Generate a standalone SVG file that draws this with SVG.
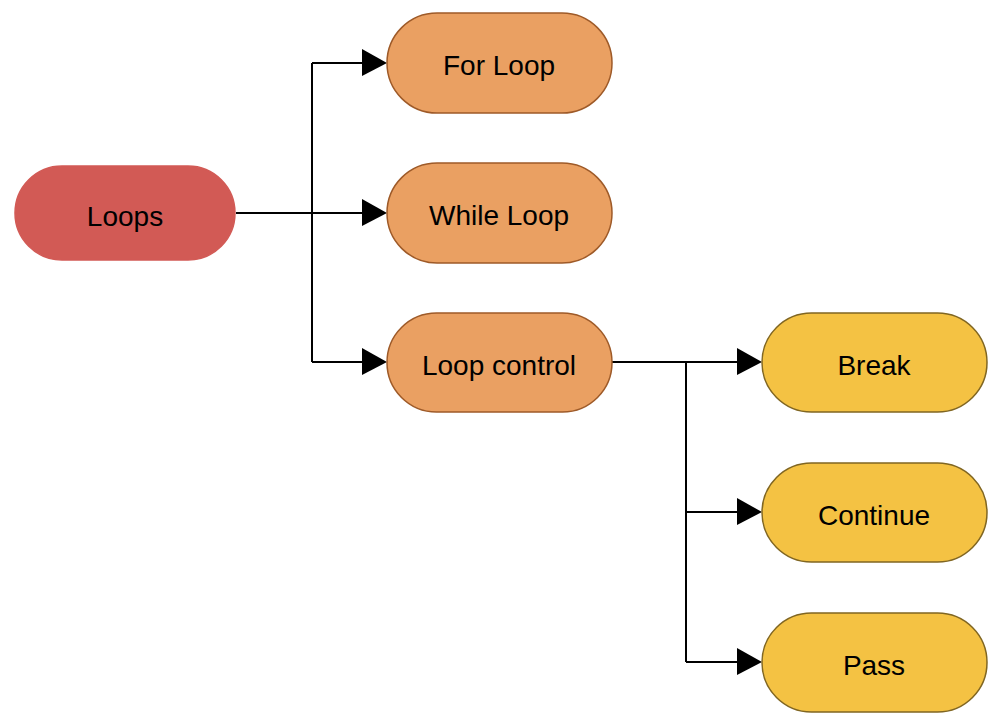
<svg xmlns="http://www.w3.org/2000/svg" width="1008" height="725" viewBox="0 0 1008 725">
<defs>
<style>
.lbl{font-family:"Liberation Sans",Arial,sans-serif;font-size:28px;fill:#000;text-anchor:middle}
.red{fill:#D25A55;stroke:#D25A55;stroke-width:1.5}
.org{fill:#EAA062;stroke:#9E5A28;stroke-width:1.5}
.yel{fill:#F4C243;stroke:#806622;stroke-width:1.5}
.con{fill:none;stroke:#000;stroke-width:2}
.head{fill:#000}
</style>
</defs>
<rect width="1008" height="725" fill="#fff"/>
<g id="connectors">
<path class="con" d="M236,213 H312"/>
<path class="con" d="M312,63 V362"/>
<path class="con" d="M612,362 H686 V662"/>
<path d="M312,63 H362" class="con"/>
<path class="head" d="M362,49 L387,63 L362,76 Z"/>
<path d="M312,213 H362" class="con"/>
<path class="head" d="M362,199 L387,213 L362,226 Z"/>
<path d="M312,362 H362" class="con"/>
<path class="head" d="M362,348 L387,362 L362,375 Z"/>
<path d="M686,362 H737" class="con"/>
<path class="head" d="M737,348 L762,362 L737,375 Z"/>
<path d="M686,512 H737" class="con"/>
<path class="head" d="M737,498 L762,512 L737,525 Z"/>
<path d="M686,662 H737" class="con"/>
<path class="head" d="M737,648 L762,662 L737,675 Z"/>
</g>
<g id="loops"><rect class="red" x="15" y="166" width="220" height="94" rx="47"/><text class="lbl" x="125" y="226">Loops</text></g>
<g id="forloop"><rect class="org" x="387" y="13" width="225" height="100" rx="50"/><text class="lbl" x="499" y="75">For Loop</text></g>
<g id="whileloop"><rect class="org" x="387" y="163" width="225" height="100" rx="50"/><text class="lbl" x="499" y="225">While Loop</text></g>
<g id="loopcontrol"><rect class="org" x="387" y="313" width="225" height="99" rx="49.5"/><text class="lbl" x="499" y="375">Loop control</text></g>
<g id="break"><rect class="yel" x="762" y="313" width="225" height="99" rx="49.5"/><text class="lbl" x="874" y="375">Break</text></g>
<g id="continue"><rect class="yel" x="762" y="463" width="225" height="99" rx="49.5"/><text class="lbl" x="874" y="525">Continue</text></g>
<g id="pass"><rect class="yel" x="762" y="613" width="225" height="99" rx="49.5"/><text class="lbl" x="874" y="675">Pass</text></g>
</svg>
